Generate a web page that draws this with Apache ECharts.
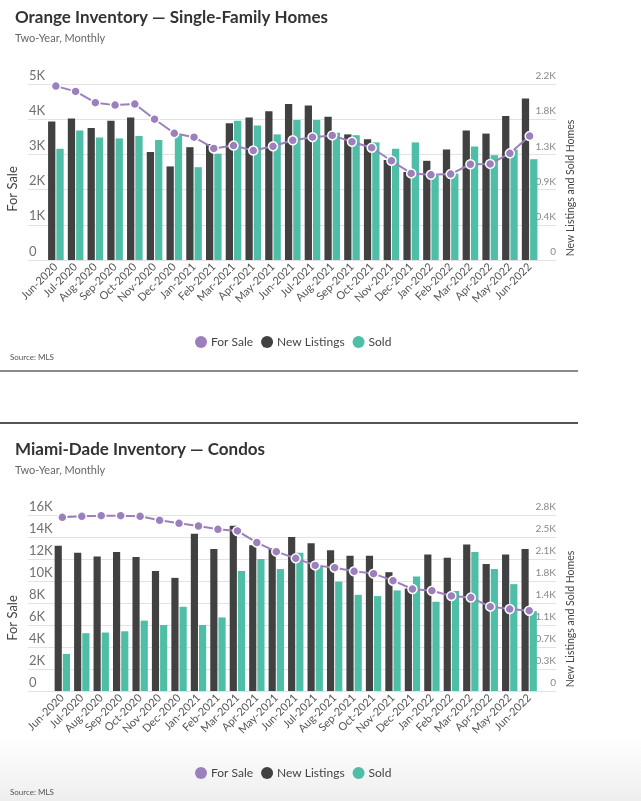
<!DOCTYPE html>
<html>
<head>
<meta charset="utf-8">
<script src="https://cdn.jsdelivr.net/npm/echarts@6/dist/echarts.min.js"></script>
<style>
html,body{margin:0;padding:0;background:#fff;}
#c{width:641px;height:801px;}
</style>
</head>
<body>
<div id="c"></div>
<script>
const months = ['Jun-2020','Jul-2020','Aug-2020','Sep-2020','Oct-2020','Nov-2020','Dec-2020','Jan-2021','Feb-2021','Mar-2021','Apr-2021','May-2021','Jun-2021','Jul-2021','Aug-2021','Sep-2021','Oct-2021','Nov-2021','Dec-2021','Jan-2022','Feb-2022','Mar-2022','Apr-2022','May-2022','Jun-2022'];

const orangeForSale = [4940,4790,4470,4400,4430,4000,3600,3490,3170,3250,3110,3230,3400,3490,3540,3360,3190,2820,2460,2420,2440,2720,2730,3030,3520];
const orangeNewListings = [1730,1770,1650,1740,1780,1350,1170,1410,1450,1710,1780,1860,1950,1930,1790,1570,1510,1250,1100,1240,1380,1620,1580,1800,2020];
const orangeSold = [1390,1620,1530,1520,1550,1500,1560,1160,1330,1740,1680,1570,1750,1750,1590,1560,1470,1390,1470,1060,1080,1420,1310,1380,1260];

const miamiForSale = [15790,15880,15940,15940,15880,15520,15240,15000,14700,14550,13490,12670,12060,11420,11210,10880,10670,10030,9270,9120,8640,8490,7670,7450,7300];
const miamiNewListings = [2310,2200,2140,2210,2130,1910,1800,2500,2260,2630,2320,2270,2450,2350,2240,2150,2150,1890,1630,2170,2120,2330,2020,2170,2260];
const miamiSold = [590,920,930,950,1120,1050,1340,1050,1170,1910,2100,1940,2200,1990,1740,1530,1510,1600,1820,1420,1590,2210,1940,1700,1270];

// axis scales
const orangeLeft = {min:0, max:5000, interval:1000};
const orangeRight = {min:0, max:2200, interval:440};
const miamiLeft = {min:0, max:16000, interval:2000};
const miamiRight = {min:0, max:2800, interval:350};

const legendNames = ['For Sale','New Listings','Sold'];
const titles = ['Orange Inventory — Single-Family Homes','Miami-Dade Inventory — Condos'];
const subtitle = 'Two-Year, Monthly';
const leftName = 'For Sale';
const rightName = 'New Listings and Sold Homes';
const sourceText = 'Source: MLS';

const PURPLE = '#9b80bd', DARK = '#414141', TEAL = '#4ebea6';
const FONT = "Lato,'Noto Sans',sans-serif";

const kLeft = v => v === 0 ? '0' : (v/1000) + 'K';
const kRight = v => v === 0 ? '0' : (v/1000).toFixed(1) + 'K';

function frameAxes(grid, left, right){
  return [
    {gridIndex:grid, type:'value', position:'left', min:left.min, max:left.max, interval:left.interval,
     axisLine:{show:false}, axisTick:{show:false},
     splitLine:{show:true, lineStyle:{color:'#e2e2e2', width:1}},
     axisLabel:{inside:true, margin:1, verticalAlign:'bottom', padding:[0,0,2,0], formatter:kLeft, fontSize:13, color:'#707070', fontFamily:FONT}},
    {gridIndex:grid, type:'value', position:'right', min:right.min, max:right.max, interval:right.interval,
     axisLine:{show:false}, axisTick:{show:false}, splitLine:{show:false},
     axisLabel:{inside:true, margin:0, verticalAlign:'bottom', padding:[0,0,3,0], formatter:kRight, fontSize:10, color:'#888', fontFamily:FONT}}
  ];
}
function hiddenAxes(grid, left, right){
  return [
    {gridIndex:grid, type:'value', min:left.min, max:left.max, interval:left.interval, show:false, splitLine:{show:false}},
    {gridIndex:grid, type:'value', min:right.min, max:right.max, interval:right.interval, show:false, splitLine:{show:false}}
  ];
}
function catAxis(grid){
  return {gridIndex:grid, type:'category', data:months, axisLine:{show:false}, axisTick:{show:false},
    axisLabel:{rotate:45, interval:0, fontSize:11, color:'#555', margin:5, fontFamily:FONT}};
}
function seriesFor(xi, yl, yr, fs, nl, sd){
  return [
    {name:'New Listings', type:'bar', xAxisIndex:xi, yAxisIndex:yr, data:nl, itemStyle:{color:DARK}, barGap:'14%', barCategoryGap:'21%', z:2},
    {name:'Sold', type:'bar', xAxisIndex:xi, yAxisIndex:yr, data:sd, itemStyle:{color:TEAL}, z:2},
    {name:'For Sale', type:'line', xAxisIndex:xi, yAxisIndex:yl, data:fs, symbol:'circle', symbolSize:9,
     lineStyle:{color:PURPLE, width:2}, itemStyle:{color:PURPLE, borderColor:'#fff', borderWidth:1.5}, z:5}
  ];
}
function legendAt(top){
  return {top:top, left:190, data:legendNames, icon:'circle', itemWidth:12, itemHeight:12, itemGap:8,
    itemStyle:{borderWidth:0}, textStyle:{fontSize:12, color:'#444', fontFamily:FONT, padding:[0,0,0,-1]}};
}
function axisNameText(x, y, text, size){
  return {type:'text', x:x, y:y, rotation:Math.PI/2,
    style:{text:text, fontSize:size, fill:'#444', fontFamily:FONT, textAlign:'center', textVerticalAlign:'middle'}};
}

const chart = echarts.init(document.getElementById('c'), null, {renderer:'canvas'});
chart.setOption({
  animation:false,
  backgroundColor:'#fff',
  textStyle:{fontFamily:FONT},
  title:[
    {text:titles[0], subtext:subtitle, left:15, top:9, padding:0, itemGap:7,
     textStyle:{fontSize:17, fontWeight:'bold', color:'#333', fontFamily:FONT},
     subtextStyle:{fontSize:11, color:'#666', fontFamily:FONT}},
    {text:titles[1], subtext:subtitle, left:15, top:441, padding:0, itemGap:7,
     textStyle:{fontSize:17, fontWeight:'bold', color:'#333', fontFamily:FONT},
     subtextStyle:{fontSize:11, color:'#666', fontFamily:FONT}}
  ],
  legend:[legendAt(331), legendAt(762)],
  grid:[
    {left:28, width:528, top:84, height:176},
    {left:46, width:493.5, top:84, height:176},
    {left:28, width:528, top:515, height:176},
    {left:52.6, width:486.3, top:515, height:176}
  ],
  xAxis:[
    {gridIndex:0, type:'value', show:false, min:0, max:1},
    catAxis(1),
    {gridIndex:2, type:'value', show:false, min:0, max:1},
    catAxis(3)
  ],
  yAxis:[].concat(frameAxes(0, orangeLeft, orangeRight), hiddenAxes(1, orangeLeft, orangeRight),
                  frameAxes(2, miamiLeft, miamiRight), hiddenAxes(3, miamiLeft, miamiRight)),
  series:[].concat(seriesFor(1, 2, 3, orangeForSale, orangeNewListings, orangeSold),
                   seriesFor(3, 6, 7, miamiForSale, miamiNewListings, miamiSold)),
  graphic:[
    {type:'rect', shape:{x:0, y:735, width:641, height:66}, z:-10, silent:true,
     style:{fill:new echarts.graphic.LinearGradient(0,0,0,1,[{offset:0,color:'rgba(240,240,240,0)'},{offset:1,color:'#eeeeee'}])}},
    axisNameText(13, 189, leftName, 13),
    axisNameText(571, 188, rightName, 10.5),
    axisNameText(13, 618, leftName, 13),
    axisNameText(571, 619, rightName, 10.5),
    {type:'text', x:10, y:357, style:{text:sourceText, fontSize:8, fill:'#555', fontFamily:FONT, textVerticalAlign:'middle'}},
    {type:'text', x:10, y:792, style:{text:sourceText, fontSize:8, fill:'#555', fontFamily:FONT, textVerticalAlign:'middle'}},
    {type:'line', shape:{x1:0, y1:371, x2:578, y2:371}, style:{stroke:'#8a8a8a', lineWidth:2}},
    {type:'line', shape:{x1:0, y1:423, x2:578, y2:423}, style:{stroke:'#1a1a1a', lineWidth:1.5}}
  ]
});
</script>
</body>
</html>
